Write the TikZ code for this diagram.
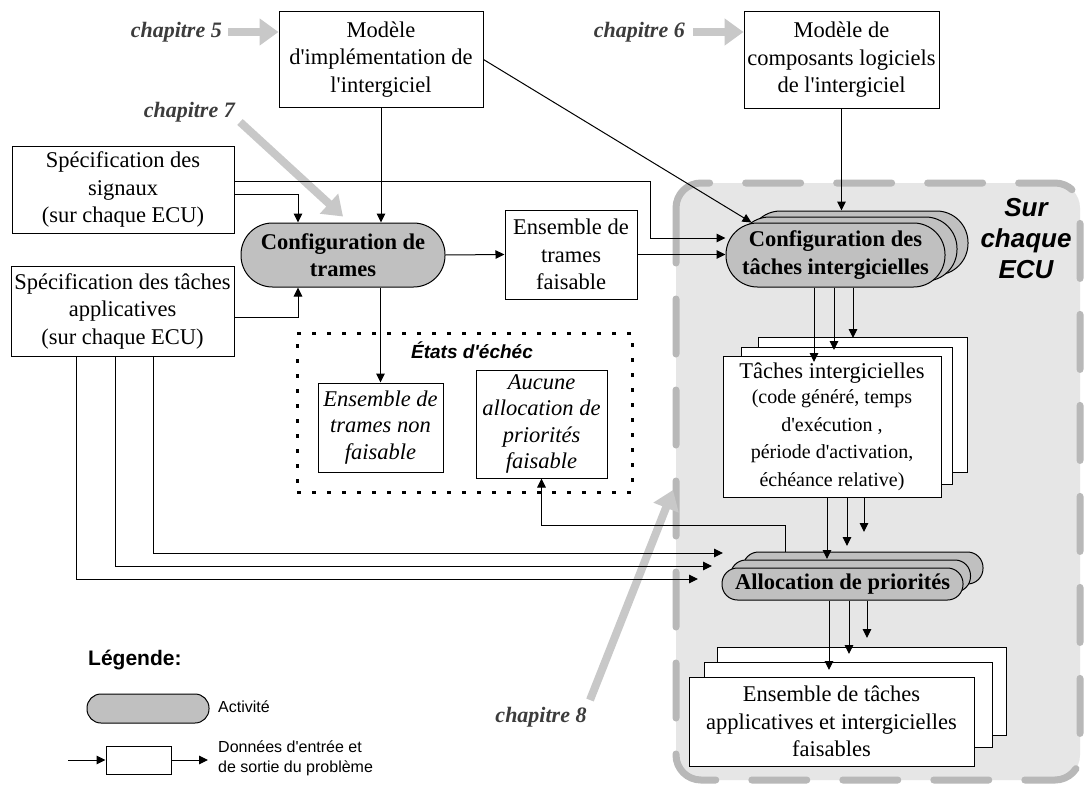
\documentclass[tikz,border=0pt]{standalone}
\usepackage{fontspec}
\setmainfont{Liberation Serif}[Ligatures=TeXOff]
\setsansfont{Liberation Sans}[Ligatures=TeXOff]
\usetikzlibrary{arrows.meta}
\definecolor{actgray}{RGB}{192,192,192}
\definecolor{chgray}{RGB}{200,200,200}
\definecolor{chtext}{RGB}{60,60,60}
\definecolor{regfill}{RGB}{230,230,230}
\definecolor{regline}{RGB}{184,184,184}
\begin{document}
\begin{tikzpicture}[x=1pt,y=-1pt,
  box/.style={draw, fill=white, line width=1pt, inner sep=0pt, align=center, font=\fontsize{22.5}{27.5}\selectfont},
  ibox/.style={box, font=\fontsize{22.5}{26.5}\selectfont\itshape},
  act/.style={draw, fill=actgray, line width=1pt, inner sep=0pt, align=center, font=\fontsize{22.5}{27.5}\selectfont\bfseries},
  conn/.style={line width=1pt, -{Triangle[length=9pt,width=8.5pt]}},
  chap/.style={line width=8pt, chgray, -{Triangle[length=19pt,width=26pt]}},
  chaplbl/.style={font=\fontsize{22}{26}\selectfont\bfseries\itshape, text=chtext, inner sep=0pt},
  sanslbl/.style={font=\sffamily\fontsize{16}{20}\selectfont, inner sep=0pt, anchor=west, align=left},
]
\path[use as bounding box, fill=white] (0,0) rectangle (1086,784);

% ECU region
\draw[draw=regline, fill=regfill, line width=7pt, rounded corners=25pt,
      dash pattern=on 55pt off 36pt, line cap=round] (676,183) rectangle (1080,780);
\node[font=\sffamily\bfseries\itshape\fontsize{26}{31}\selectfont, align=center, inner sep=0pt] (ecu) at (1026,239) {Sur\\chaque\\ECU};

% chapter labels
\node[chaplbl, anchor=east] (c5) at (222,32) {chapitre 5};
\node[chaplbl, anchor=east] (c6) at (685,32) {chapitre 6};
\node[chaplbl, anchor=east] (c7) at (235,112) {chapitre 7};
\node[chaplbl] (c8) at (541,717) {chapitre 8};

% input boxes
\node[box, minimum width=204pt, minimum height=95pt] (impl) at (381,59.5) {Modèle\\d'implémentation de\\l'intergiciel};
\node[box, minimum width=195pt, minimum height=96pt] (comp) at (841.5,60) {Modèle de\\composants logiciels\\de l'intergiciel};
\node[box, minimum width=222pt, minimum height=87pt] (sig) at (123,189.5) {Spécification des\\signaux\\(sur chaque ECU)};
\node[box, minimum width=223pt, minimum height=90pt] (tsk) at (122.5,311) {Spécification des tâches\\applicatives\\(sur chaque ECU)};

% frame configuration
\node[act, rounded corners=31.5pt, minimum width=204pt, minimum height=64pt] (cfgT) at (343,255) {Configuration de\\trames};
\node[box, minimum width=132pt, minimum height=89pt] (ens) at (571,254.5) {Ensemble de\\trames\\faisable};

% middleware task configuration (stack)
\node[act, rounded corners=31.5pt, minimum width=219pt, minimum height=64pt] (cfgIc) at (858.5,243) {};
\node[act, rounded corners=31.5pt, minimum width=219pt, minimum height=64pt] (cfgIb) at (847.5,249) {};
\node[act, rounded corners=31.5pt, minimum width=219pt, minimum height=64pt] (cfgI) at (835.5,255) {Configuration des\\tâches intergicielles};

% middleware tasks (stack)
\node[box, minimum width=209pt, minimum height=135pt] (tic) at (862.5,404.5) {};
\node[box, minimum width=211pt, minimum height=137pt] (tib) at (846.5,415.5) {};
\node[box, minimum width=218pt, minimum height=141pt] (ti) at (832,426.5) {Tâches intergicielles\\[-2pt]\fontsize{20}{24.5}\selectfont(code généré, temps\\\fontsize{20}{24.5}\selectfont d'exécution ,\\\fontsize{20}{24.5}\selectfont période d'activation,\\\fontsize{20}{24.5}\selectfont échéance relative)};

% priority allocation (stack)
\node[act, rounded corners=15.5pt, minimum width=240pt, minimum height=32pt] (allocc) at (863,568) {};
\node[act, rounded corners=15.5pt, minimum width=240pt, minimum height=32pt] (allocb) at (850.5,576) {};
\node[act, rounded corners=15.5pt, minimum width=241pt, minimum height=32pt] (alloc) at (842.5,584) {Allocation de priorités};

% final sets (stack)
\node[box, minimum width=289pt, minimum height=88pt] (finc) at (861.5,691) {};
\node[box, minimum width=288pt, minimum height=85pt] (finb) at (848,704.5) {};
\node[box, minimum width=285pt, minimum height=89pt] (fin) at (831.5,721.5) {Ensemble de tâches\\applicatives et intergicielles\\faisables};

% failure states
\node[draw, line width=3pt, dash pattern=on 4pt off 11pt, minimum width=335pt, minimum height=159pt, inner sep=0pt] (fail) at (464.5,412.5) {};
\node[font=\sffamily\bfseries\itshape\fontsize{19}{23}\selectfont, inner sep=0pt] (failt) at (472,350) {États d'échéc};
\node[ibox, minimum width=125pt, minimum height=89pt] (nf) at (380.5,427.5) {Ensemble de\\trames non\\faisable};
\node[ibox, minimum width=131pt, minimum height=108pt] (auc) at (541.5,424) {Aucune\\allocation de\\priorités\\faisable};

% chapter arrows
\draw[chap] ([xshift=6pt]c5.east) -- (impl.west |- c5.east);
\draw[chap] ([xshift=8pt]c6.east) -- (comp.west |- c6.east);
\draw[chap] ([shift={(5pt,-10pt)}]c7.east) -- ([yshift=6pt]cfgT.north);
\coordinate (c8s) at (590,700);
\coordinate (c8e) at (673,490);
\draw[chap] (c8s) -- (c8e);

% connectors
\draw[conn] (sig.east |- 0,194) -| (cfgT.north -| 298,0);
\draw[conn] (sig.east |- 0,181) -| (650,238) -- (cfgI.west |- 0,238);
\draw[conn] (impl.south) -- (impl.south |- cfgT.north);
\draw[conn] (impl.east) -- ([xshift=26pt]cfgI.north west);
\draw[conn] (tsk.east |- 0,317) -| (cfgT.south -| 298,0);
\draw[conn] (cfgT.east) -- (ens.west);
\draw[conn] (ens.east) -- (ens.east -| cfgI.west);
\draw[conn] (comp.south) -- (comp.south |- cfgIc.north);
\draw[conn] (nf.north |- cfgT.south) -- (nf.north);

\coordinate (t1) at (814,362);
\coordinate (t2) at (834,350);
\coordinate (t3) at (853,338);
\draw[conn] (cfgI.south -| t1) -- (t1);
\draw[conn] (cfgI.south -| t2) -- (t2);
\draw[conn] (cfgI.south -| t3) -- (t3);

\coordinate (a1) at (827,559);
\coordinate (a2) at (847,546);
\coordinate (a3) at (864,532);
\draw[conn] (ti.south -| a1) -- (a1);
\draw[conn] (ti.south -| a2) -- (a2);
\draw[conn] (ti.south -| a3) -- (a3);

\coordinate (f1) at (829,670);
\coordinate (f2) at (849,654);
\coordinate (f3) at (867,638);
\draw[conn] (alloc.south -| f1) -- (f1);
\draw[conn] (alloc.south -| f2) -- (f2);
\draw[conn] (alloc.south -| f3) -- (f3);

\draw[conn] (allocc.north -| 785,0) -- (785,525) -| (auc.south);

\coordinate (l1) at (723,553);
\coordinate (l2) at (712,566);
\coordinate (l3) at (698,579);
\draw[conn] (tsk.south -| 153,0) |- (l1);
\draw[conn] (tsk.south -| 115,0) |- (l2);
\draw[conn] (tsk.south -| 76,0) |- (l3);

% legend
\node[font=\sffamily\bfseries\fontsize{21}{25}\selectfont, anchor=west, inner sep=0pt] (leg) at (88,660) {Légende:};
\node[act, rounded corners=14pt, minimum width=122pt, minimum height=29pt] (legact) at (148,708.5) {};
\node[sanslbl] (legacttxt) at (218,707) {Activité};
\node[box, minimum width=65pt, minimum height=28pt] (legbox) at (138.5,760) {};
\coordinate (legin) at (68,760);
\coordinate (legout) at (208,760);
\draw[conn] (legin) -- (legbox.west);
\draw[conn] (legbox.east) -- (legout);
\node[sanslbl] (legboxtxt) at (218,758) {Données d'entrée et\\de sortie du problème};
\end{tikzpicture}
\end{document}
